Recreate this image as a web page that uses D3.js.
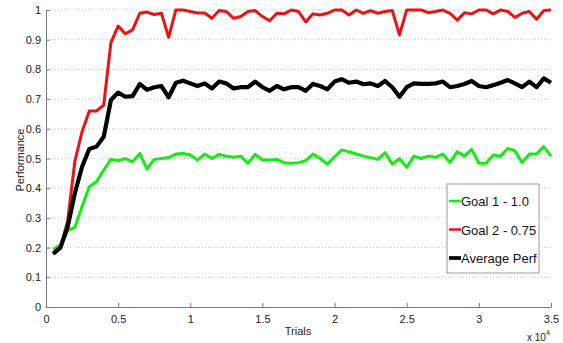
<!DOCTYPE html>
<html>
<head>
<meta charset="utf-8">
<script src="https://cdn.jsdelivr.net/npm/d3@7"></script>
<style>
  body { margin: 0; background: #fff; }
  svg { display: block; font-family: "Liberation Sans", Arial, sans-serif; }
</style>
</head>
<body>
<div id="chart"></div>
<script>
// trials (x values)
var trials = [500,1000,1500,2000,2500,3000,3500,4000,4500,5000,5500,6000,6500,7000,7500,8000,8500,9000,
  9500,10000,10500,11000,11500,12000,12500,13000,13500,14000,14500,15000,15500,16000,16500,17000,17500,
  18000,18500,19000,19500,20000,20500,21000,21500,22000,22500,23000,23500,24000,24500,25000,25500,26000,
  26500,27000,27500,28000,28500,29000,29500,30000,30500,31000,31500,32000,32500,33000,33500,34000,34500,35000];

var goal1 = [0.194,0.209,0.257,0.268,0.338,0.405,0.422,0.461,0.497,0.493,0.5,0.489,0.517,0.464,0.497,0.5,0.503,0.515,
  0.517,0.512,0.495,0.515,0.5,0.514,0.508,0.504,0.508,0.484,0.514,0.495,0.495,0.497,0.486,0.484,0.486,
  0.493,0.515,0.5,0.481,0.506,0.529,0.523,0.515,0.508,0.503,0.497,0.52,0.481,0.5,0.47,0.508,0.5,
  0.508,0.504,0.515,0.486,0.523,0.508,0.531,0.484,0.484,0.512,0.508,0.534,0.526,0.486,0.515,0.515,0.54,0.508];

var goal2 = [0.178,0.198,0.29,0.49,0.59,0.66,0.66,0.68,0.89,0.946,0.92,0.933,0.989,0.993,0.985,0.989,0.908,1.0,
  1.0,0.995,0.99,0.99,0.972,0.998,0.995,0.972,0.978,0.995,0.998,0.978,0.964,0.989,0.987,1.0,0.995,
  0.96,0.987,0.983,0.989,1.0,1.0,0.983,1.0,0.989,0.998,0.989,0.995,0.998,0.916,1.0,1.0,1.0,
  0.991,0.995,1.0,0.989,0.966,0.991,0.987,1.0,1.0,0.987,1.0,0.995,0.975,0.989,0.995,0.969,0.998,1.0];

var avgPerf = [0.18,0.2,0.27,0.383,0.472,0.532,0.54,0.573,0.697,0.722,0.708,0.71,0.751,0.731,0.74,0.744,0.706,0.755,
  0.762,0.753,0.744,0.753,0.736,0.759,0.753,0.736,0.74,0.74,0.759,0.74,0.728,0.744,0.733,0.74,0.74,
  0.728,0.751,0.744,0.733,0.759,0.767,0.755,0.759,0.75,0.753,0.744,0.761,0.74,0.708,0.74,0.753,0.751,
  0.751,0.753,0.759,0.74,0.744,0.751,0.761,0.744,0.74,0.747,0.755,0.764,0.753,0.74,0.759,0.74,0.77,0.755];

var xTicks = [0,5000,10000,15000,20000,25000,30000,35000];
var yTicks = [0,0.1,0.2,0.3,0.4,0.5,0.6,0.7,0.8,0.9,1];

var series = [
  {name:'Goal 1 - 1.0', values:goal1, color:'#14ec14', width:3},
  {name:'Goal 2 - 0.75', values:goal2, color:'#ee1111', width:3},
  {name:'Average Perf', values:avgPerf, color:'#000000', width:4.2}
];

var W = 563, H = 343;
var x = d3.scaleLinear().domain([0,35000]).range([46,551]);
var y = d3.scaleLinear().domain([0,1]).range([307,10]);

var svg = d3.select('#chart').append('svg').attr('width',W).attr('height',H);

// horizontal dotted grid
svg.append('g').selectAll('line').data(yTicks.filter(function(d){ return d>0; })).join('line')
  .attr('x1',x(0)).attr('x2',x(35000))
  .attr('y1',function(d){ return y(d); }).attr('y2',function(d){ return y(d); })
  .attr('stroke','#c8c8c8').attr('stroke-width',1).attr('stroke-dasharray','1,2');

// axes
var xAxis = svg.append('g').attr('transform','translate(0,'+y(0)+')')
  .call(d3.axisBottom(x).tickValues(xTicks).tickSizeInner(-4).tickSizeOuter(0)
    .tickFormat(function(d){ return d3.format('~g')(d/10000); }));
var yAxis = svg.append('g').attr('transform','translate('+x(0)+',0)')
  .call(d3.axisLeft(y).tickValues(yTicks).tickSizeInner(-4).tickSizeOuter(0)
    .tickFormat(d3.format('~g')));
[xAxis,yAxis].forEach(function(a){
  a.select('.domain').attr('stroke','#7a7a7a');
  a.selectAll('.tick line').attr('stroke','#7a7a7a');
  a.selectAll('.tick text').attr('fill','#222').attr('font-size','11px')
    .attr('font-family','"Liberation Sans", Arial, sans-serif');
});
xAxis.selectAll('.tick text').attr('y',8);
yAxis.selectAll('.tick text').attr('x',-5);

// lines
var line = d3.line()
  .x(function(d,i){ return x(trials[i]); })
  .y(function(d){ return y(d); });
svg.append('g').selectAll('path').data(series).join('path')
  .attr('d',function(s){ return line(s.values); })
  .attr('fill','none')
  .attr('stroke',function(s){ return s.color; })
  .attr('stroke-width',function(s){ return s.width; })
  .attr('stroke-linejoin','round');

// axis labels
svg.append('text').attr('x',298).attr('y',335).attr('text-anchor','middle')
  .attr('font-size','11px').attr('fill','#222').text('Trials');
svg.append('text').attr('transform','translate(24,160) rotate(-90)').attr('text-anchor','middle')
  .attr('font-size','11px').attr('fill','#222').text('Performance');
var mult = svg.append('text').attr('x',527).attr('y',341).attr('font-size','10px').attr('fill','#222');
mult.append('tspan').text('x 10');
mult.append('tspan').attr('dy',-6).attr('font-size','7px').text('4');

// legend
var lg = svg.append('g').attr('transform','translate(447,184)');
lg.append('rect').attr('width',92).attr('height',89).attr('fill','#fff').attr('stroke','#9a9a9a');
var item = lg.selectAll('g.item').data(series).join('g').attr('class','item')
  .attr('transform',function(d,i){ return 'translate(0,'+(17+i*28.5)+')'; });
item.append('line').attr('x1',2).attr('x2',14).attr('y1',0).attr('y2',0)
  .attr('stroke',function(d){ return d.color; }).attr('stroke-width',function(d){ return d.width-0.5; });
item.append('text').attr('x',14).attr('y',5).attr('font-size','13px').attr('fill','#111')
  .text(function(d){ return d.name; });
</script>
</body>
</html>
